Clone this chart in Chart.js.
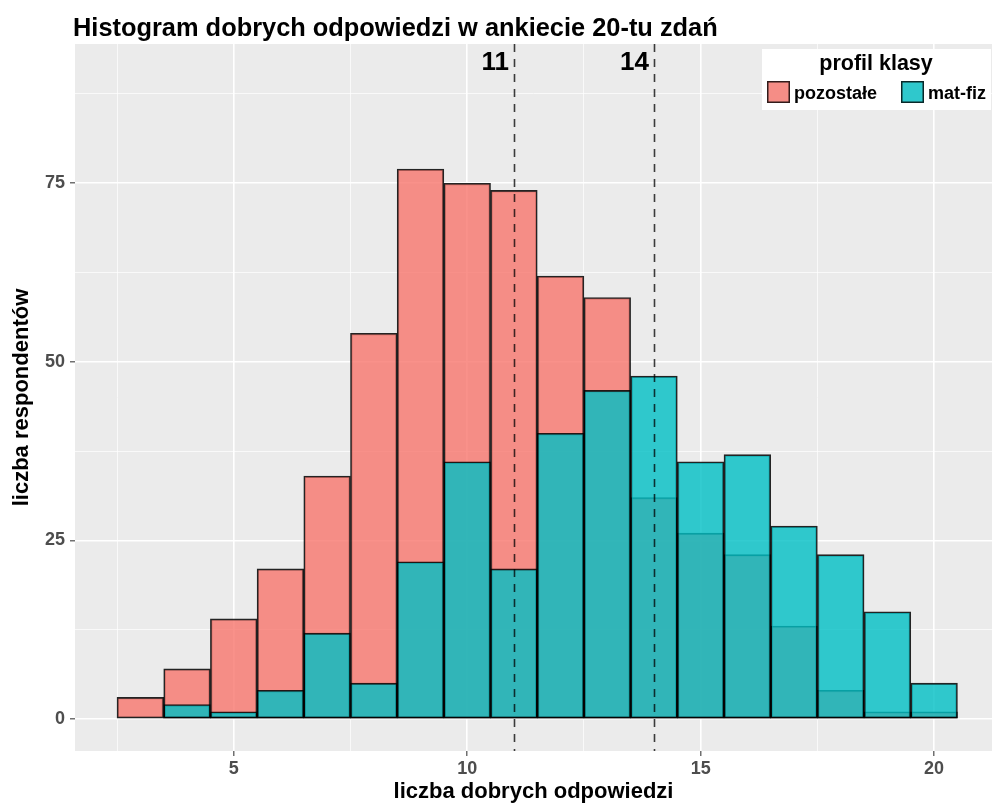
<!DOCTYPE html>
<html><head><meta charset="utf-8">
<script src="https://cdn.jsdelivr.net/npm/chart.js@4/dist/chart.umd.min.js"></script>
<style>html,body{margin:0;padding:0;background:#fff;overflow:hidden}#wrap{width:992px;height:805px;position:relative}</style>
</head><body><div id="wrap"><canvas id="c" width="992" height="805"></canvas></div>
<script>
const chartTitle = 'Histogram dobrych odpowiedzi w ankiecie 20-tu zdań';
const xTitle = 'liczba dobrych odpowiedzi';
const yTitle = 'liczba respondentów';
const legendTitle = 'profil klasy';
const seriesNames = ['pozostałe', 'mat-fiz'];
const scores = [3,4,5,6,7,8,9,10,11,12,13,14,15,16,17,18,19,20];
const pozostale = [3,7,14,21,34,54,77,75,74,62,59,31,26,23,13,4,1,1];
const matFiz = [0,2,1,4,12,5,22,36,21,40,46,48,36,37,27,23,15,5];
const xMajorTicks = [5,10,15,20];
const xMinorTicks = [2.5,7.5,12.5,17.5];
const yMajorTicks = [0,25,50,75];
const yMinorTicks = [12.5,37.5,62.5,87.5];
const cutoffs = [11,14];

const FONT = "'Liberation Sans', Arial, sans-serif";
const redFill = 'rgba(248,118,109,0.8)';
const tealFill = 'rgba(0,191,196,0.8)';

function pts(vals){ return scores.map((s,i)=>({x:s, y:vals[i]})); }

const bgPlugin = {
  id:'panelBg',
  beforeDraw(chart){
    const {ctx, chartArea:a} = chart;
    ctx.save(); ctx.fillStyle = '#EBEBEB';
    ctx.fillRect(a.left, a.top, a.right-a.left, a.bottom-a.top);
    ctx.restore();
  }
};

const overlayPlugin = {
  id:'overlay',
  afterDatasetsDraw(chart){
    const {ctx, chartArea:a, scales} = chart;
    ctx.save();
    ctx.strokeStyle = 'rgba(0,0,0,0.75)';
    ctx.lineWidth = 1.6;
    ctx.setLineDash([8,7]);
    cutoffs.forEach(v=>{
      const x = Math.round(scales.x.getPixelForValue(v))+0.5;
      ctx.beginPath(); ctx.moveTo(x, a.top); ctx.lineTo(x, a.bottom); ctx.stroke();
    });
    ctx.setLineDash([]);
    ctx.fillStyle = '#000';
    ctx.font = 'bold 26px ' + FONT;
    ctx.textAlign = 'right'; ctx.textBaseline = 'alphabetic';
    cutoffs.forEach(v=>{
      const x = scales.x.getPixelForValue(v);
      ctx.fillText(String(v), x - 5, 70);
    });
    ctx.restore();
  },
  afterDraw(chart){
    const {ctx} = chart;
    ctx.save();
    ctx.fillStyle = '#000';
    ctx.font = 'bold 25.4px ' + FONT;
    ctx.textAlign = 'left'; ctx.textBaseline = 'alphabetic';
    ctx.fillText(chartTitle, 73, 36);
    // legend
    ctx.fillStyle = '#fff';
    ctx.fillRect(762, 49, 229, 61);
    ctx.fillStyle = '#000';
    ctx.font = 'bold 21.5px ' + FONT;
    ctx.textAlign = 'center';
    ctx.fillText(legendTitle, 876, 70);
    const keys = [{x:767, fill:redFill, label:seriesNames[0]}, {x:901, fill:tealFill, label:seriesNames[1]}];
    ctx.font = 'bold 18px ' + FONT;
    ctx.textAlign = 'left';
    keys.forEach(k=>{
      ctx.fillStyle = '#EBEBEB';
      ctx.fillRect(k.x, 81, 23, 22);
      ctx.fillStyle = k.fill;
      ctx.fillRect(k.x, 81, 23, 22);
      ctx.strokeStyle = 'rgba(0,0,0,0.8)'; ctx.lineWidth = 1.5;
      ctx.strokeRect(k.x+0.75, 81.75, 21.5, 20.5);
      ctx.fillStyle = '#000';
      ctx.fillText(k.label, k.x + 27, 99);
    });
    ctx.restore();
  }
};

const isMajorX = v => xMajorTicks.includes(v);
const isMajorY = v => yMajorTicks.includes(v);

new Chart(document.getElementById('c'), {
  type:'bar',
  data:{
    datasets:[
      {label:seriesNames[0], data:pts(pozostale), backgroundColor:redFill, borderColor:'rgba(0,0,0,0.85)', borderWidth:1.6, borderSkipped:false, grouped:false, barPercentage:1, categoryPercentage:1, order:2},
      {label:seriesNames[1], data:pts(matFiz), backgroundColor:tealFill, borderColor:'rgba(0,0,0,0.85)', borderWidth:1.6, borderSkipped:false, grouped:false, barPercentage:1, categoryPercentage:1, order:1}
    ]
  },
  options:{
    responsive:false, animation:false, devicePixelRatio:1,
    layout:{padding:{top:44,left:0,right:0,bottom:0}},
    plugins:{legend:{display:false}, tooltip:{enabled:false}, title:{display:false}},
    scales:{
      x:{
        type:'linear', min:1.6, max:21.24, offset:false,
        afterBuildTicks(s){ s.ticks = [...xMinorTicks, ...xMajorTicks].sort((a,b)=>a-b).map(v=>({value:v})); },
        afterFit(s){ s.height = 54; },
        border:{display:false},
        grid:{
          offset:false,
          color: c => isMajorX(c.tick && c.tick.value) ? '#FFFFFF' : 'rgba(255,255,255,0.75)',
          lineWidth: c => isMajorX(c.tick && c.tick.value) ? 1.6 : 0.9,
          tickLength:5,
          tickColor: c => isMajorX(c.tick && c.tick.value) ? '#4D4D4D' : 'rgba(0,0,0,0)',
          tickWidth:1.2
        },
        ticks:{autoSkip:false, maxRotation:0, padding:2, color:'#4D4D4D', font:{family:FONT, size:18, weight:'bold'},
          callback:v => isMajorX(v) ? String(v) : ''},
        title:{display:true, text:xTitle, color:'#000', font:{family:FONT, size:22, weight:'bold'}, padding:{top:0,bottom:0}}
      },
      y:{
        type:'linear', min:-4.5, max:94.5,
        afterBuildTicks(s){ s.ticks = [...yMajorTicks, ...yMinorTicks].sort((a,b)=>a-b).map(v=>({value:v})); },
        afterFit(s){ s.width = 75; },
        border:{display:false},
        grid:{
          color: c => isMajorY(c.tick && c.tick.value) ? '#FFFFFF' : 'rgba(255,255,255,0.75)',
          lineWidth: c => isMajorY(c.tick && c.tick.value) ? 1.6 : 0.9,
          tickLength:5,
          tickColor: c => isMajorY(c.tick && c.tick.value) ? '#4D4D4D' : 'rgba(0,0,0,0)',
          tickWidth:1.2
        },
        ticks:{autoSkip:false, padding:5, color:'#4D4D4D', font:{family:FONT, size:18, weight:'bold'},
          callback:v => isMajorY(v) ? String(v) : ''},
        title:{display:true, text:yTitle, color:'#000', font:{family:FONT, size:22, weight:'bold'}, padding:{top:9,bottom:0}}
      }
    }
  },
  plugins:[bgPlugin, overlayPlugin]
});
</script></body></html>
